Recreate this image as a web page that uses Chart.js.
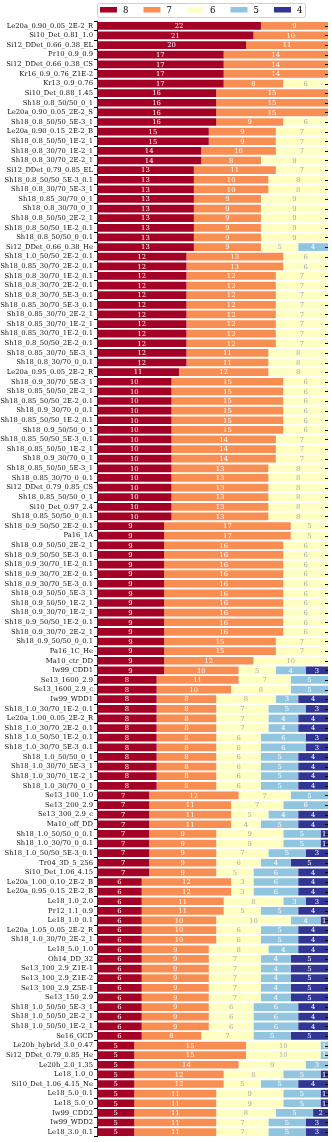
<!DOCTYPE html>
<html>
<head>
<meta charset="utf-8">
<script src="https://cdn.jsdelivr.net/npm/chart.js@4/dist/chart.umd.min.js"></script>
<style>
  body { margin: 0; background: #fff; }
  canvas { display: block; }
</style>
</head>
<body>
<canvas id="chart" width="332" height="1142"></canvas>
<script>
const labels = [
    'Le20a_0.90_0.05_2E-2_R', 'Si10_Det_0.81_1.0', 'Si12_DDet_0.66_0.38_EL', 'Pr10_0.9_0.9', 'Si12_DDet_0.66_0.38_CS', 'Kr16_0.9_0.76_Z1E-2', 'Kr13_0.9_0.76', 'Si10_Det_0.88_1.45',
    'Sh18_0.8_50/50_0_1', 'Le20a_0.90_0.05_2E-2_S', 'Sh18_0.8_50/50_5E-3_1', 'Le20a_0.90_0.15_2E-2_B', 'Sh18_0.8_50/50_1E-2_1', 'Sh18_0.8_30/70_1E-2_1', 'Sh18_0.8_30/70_2E-2_1', 'Si12_DDet_0.79_0.85_EL', 'Sh18_0.8_50/50_5E-3_0.1', 'Sh18_0.8_30/70_5E-3_1',
    'Sh18_0.85_30/70_0_1', 'Sh18_0.8_30/70_0_1', 'Sh18_0.8_50/50_2E-2_1', 'Sh18_0.8_50/50_1E-2_0.1', 'Sh18_0.8_50/50_0_0.1', 'Si12_DDet_0.66_0.38_He', 'Sh18_1.0_50/50_2E-2_0.1', 'Sh18_0.85_30/70_2E-2_0.1', 'Sh18_0.8_30/70_1E-2_0.1', 'Sh18_0.8_30/70_2E-2_0.1',
    'Sh18_0.8_30/70_5E-3_0.1', 'Sh18_0.85_30/70_5E-3_0.1', 'Sh18_0.85_30/70_2E-2_1', 'Sh18_0.85_30/70_1E-2_1', 'Sh18_0.85_30/70_1E-2_0.1', 'Sh18_0.8_50/50_2E-2_0.1', 'Sh18_0.85_30/70_5E-3_1', 'Sh18_0.8_30/70_0_0.1', 'Le20a_0.95_0.05_2E-2_R',
    'Sh18_0.9_30/70_5E-3_1', 'Sh18_0.85_50/50_2E-2_1', 'Sh18_0.85_50/50_2E-2_0.1', 'Sh18_0.9_30/70_0_0.1', 'Sh18_0.85_50/50_1E-2_0.1', 'Sh18_0.9_50/50_0_1', 'Sh18_0.85_50/50_5E-3_0.1', 'Sh18_0.85_50/50_1E-2_1', 'Sh18_0.9_30/70_0_1', 'Sh18_0.85_50/50_5E-3_1',
    'Sh18_0.85_30/70_0_0.1', 'Si12_DDet_0.79_0.85_CS', 'Sh18_0.85_50/50_0_1', 'Si10_Det_0.97_2.4', 'Sh18_0.85_50/50_0_0.1', 'Sh18_0.9_50/50_2E-2_0.1', 'Pa16_1A', 'Sh18_0.9_50/50_2E-2_1', 'Sh18_0.9_50/50_5E-3_0.1', 'Sh18_0.9_30/70_1E-2_0.1',
    'Sh18_0.9_30/70_2E-2_0.1', 'Sh18_0.9_30/70_5E-3_0.1', 'Sh18_0.9_50/50_5E-3_1', 'Sh18_0.9_50/50_1E-2_1', 'Sh18_0.9_30/70_1E-2_1', 'Sh18_0.9_50/50_1E-2_0.1', 'Sh18_0.9_30/70_2E-2_1', 'Sh18_0.9_50/50_0_0.1', 'Pa16_1C_He', 'Ma10_ctr_DD',
    'Iw99_CDD1', 'Se13_1600_2.9', 'Se13_1600_2.9_c', 'Iw99_WDD1', 'Sh18_1.0_30/70_1E-2_0.1', 'Le20a_1.00_0.05_2E-2_R', 'Sh18_1.0_30/70_2E-2_0.1', 'Sh18_1.0_50/50_1E-2_0.1', 'Sh18_1.0_30/70_5E-3_0.1', 'Sh18_1.0_50/50_0_1',
    'Sh18_1.0_30/70_5E-3_1', 'Sh18_1.0_30/70_1E-2_1', 'Sh18_1.0_30/70_0_1', 'Se13_100_1.0', 'Se13_200_2.9', 'Se13_300_2.9_c', 'Ma10_off_DD', 'Sh18_1.0_50/50_0_0.1', 'Sh18_1.0_30/70_0_0.1', 'Sh18_1.0_50/50_5E-3_0.1',
    'Tr04_3D_5_256', 'Si10_Det_1.06_4.15', 'Le20a_1.00_0.10_2E-2_B', 'Le20a_0.95_0.15_2E-2_B', 'Le18_1.0_2.0', 'Pr12_1.1_0.9', 'Le18_1.0_0.1', 'Le20a_1.05_0.05_2E-2_R', 'Sh18_1.0_30/70_2E-2_1', 'Le18_5.0_1.0',
    'Oh14_DD_32', 'Se13_100_2.9_Z1E-1', 'Se13_100_2.9_Z1E-2', 'Se13_100_2.9_Z5E-1', 'Se13_150_2.9', 'Sh18_1.0_50/50_5E-3_1', 'Sh18_1.0_50/50_2E-2_1', 'Sh18_1.0_50/50_1E-2_1', 'Se16_GCD',
    'Le20b_hybrid_3.0_0.47', 'Si12_DDet_0.79_0.85_He', 'Le20b_2.0_1.35', 'Le18_1.0_0', 'Si10_Det_1.06_4.15_Ne', 'Le18_5.0_0.1', 'Le18_5.0_0', 'Iw99_CDD2', 'Iw99_WDD2', 'Le18_3.0_0.1'
];

// counts per score, one entry per label (0 = not present)
const n8 = [
    22, 21, 20, 17, 17, 17, 17, 16,
    16, 16, 16, 15, 15, 14, 14, 13, 13, 13,
    13, 13, 13, 13, 13, 13, 12, 12, 12, 12,
    12, 12, 12, 12, 12, 12, 12, 12, 11,
    10, 10, 10, 10, 10, 10, 10, 10, 10, 10,
    10, 10, 10, 10, 10, 9, 9, 9, 9, 9,
    9, 9, 9, 9, 9, 9, 9, 9, 9, 9,
    9, 8, 8, 8, 8, 8, 8, 8, 8, 8,
    8, 8, 8, 7, 7, 7, 7, 7, 7, 7,
    7, 7, 6, 6, 6, 6, 6, 6, 6, 6,
    6, 6, 6, 6, 6, 6, 6, 6, 6,
    5, 5, 5, 5, 5, 5, 5, 5, 5, 5
];
const n7 = [
    9, 10, 11, 14, 14, 14, 8, 15,
    15, 15, 9, 9, 9, 10, 8, 11, 10, 10,
    9, 9, 9, 9, 9, 9, 13, 13, 12, 12,
    12, 12, 12, 12, 12, 12, 11, 11, 12,
    15, 15, 15, 15, 15, 15, 14, 14, 14, 13,
    13, 13, 13, 13, 13, 17, 17, 16, 16, 16,
    16, 16, 16, 16, 16, 16, 16, 15, 15, 12,
    10, 11, 10, 8, 8, 8, 8, 8, 8, 8,
    8, 8, 8, 12, 11, 11, 11, 9, 9, 9,
    9, 9, 12, 12, 11, 11, 10, 10, 10, 9,
    9, 9, 9, 9, 9, 9, 9, 9, 8,
    15, 15, 14, 12, 12, 11, 11, 11, 11, 11
];
const n6 = [
    0, 0, 0, 0, 0, 0, 6, 0,
    0, 0, 6, 7, 7, 7, 9, 7, 8, 8,
    9, 9, 9, 9, 9, 5, 6, 6, 7, 7,
    7, 7, 7, 7, 7, 7, 8, 8, 8,
    6, 6, 6, 6, 6, 6, 7, 7, 7, 8,
    8, 8, 8, 8, 8, 5, 5, 6, 6, 6,
    6, 6, 6, 6, 6, 6, 6, 7, 7, 10,
    5, 7, 8, 8, 7, 7, 7, 6, 6, 6,
    6, 6, 6, 7, 7, 5, 4, 9, 9, 7,
    6, 5, 3, 3, 8, 5, 10, 6, 6, 8,
    7, 7, 7, 7, 7, 6, 6, 6, 7,
    10, 10, 9, 8, 5, 9, 9, 8, 7, 7
];
const n5 = [
    0, 0, 0, 0, 0, 0, 0, 0,
    0, 0, 0, 0, 0, 0, 0, 0, 0, 0,
    0, 0, 0, 0, 0, 4, 0, 0, 0, 0,
    0, 0, 0, 0, 0, 0, 0, 0, 0,
    0, 0, 0, 0, 0, 0, 0, 0, 0, 0,
    0, 0, 0, 0, 0, 0, 0, 0, 0, 0,
    0, 0, 0, 0, 0, 0, 0, 0, 0, 0,
    4, 5, 5, 3, 5, 4, 4, 6, 6, 5,
    5, 5, 5, 5, 6, 4, 5, 5, 5, 5,
    4, 6, 6, 6, 3, 5, 4, 5, 5, 4,
    4, 4, 4, 4, 4, 6, 6, 6, 5,
    1, 1, 3, 5, 5, 5, 5, 5, 5, 5
];
const n4 = [
    0, 0, 0, 0, 0, 0, 0, 0,
    0, 0, 0, 0, 0, 0, 0, 0, 0, 0,
    0, 0, 0, 0, 0, 0, 0, 0, 0, 0,
    0, 0, 0, 0, 0, 0, 0, 0, 0,
    0, 0, 0, 0, 0, 0, 0, 0, 0, 0,
    0, 0, 0, 0, 0, 0, 0, 0, 0, 0,
    0, 0, 0, 0, 0, 0, 0, 0, 0, 0,
    3, 0, 0, 4, 3, 4, 4, 3, 3, 4,
    4, 4, 4, 0, 0, 4, 4, 1, 1, 3,
    5, 4, 4, 4, 3, 4, 1, 4, 4, 4,
    5, 5, 5, 5, 5, 4, 4, 4, 5,
    0, 0, 0, 1, 4, 1, 1, 2, 3, 3
];

const seriesNames = ['8', '7', '6', '5', '4'];
const seriesValues = [n8, n7, n6, n5, n4];
const seriesColors = ['#a50026', '#f98e52', '#feffc0', '#91c4de', '#313695'];
const textColors = ['#fff', '#fff', '#aaa', '#fff', '#fff'];
const xMax = 31;

const serif = '"DejaVu Serif", serif';

// numbers in the middle of each segment
const segmentLabels = {
    id: 'segmentLabels',
    afterDatasetsDraw(chart) {
        const ctx = chart.ctx;
        ctx.save();
        ctx.font = '6.8px ' + serif;
        ctx.textAlign = 'center';
        ctx.textBaseline = 'middle';
        chart.data.datasets.forEach((ds, i) => {
            const meta = chart.getDatasetMeta(i);
            meta.data.forEach((bar, j) => {
                const v = ds.data[j];
                if (!v) return;
                ctx.fillStyle = textColors[i];
                ctx.fillText(String(v), (bar.x + bar.base) / 2, bar.y + 0.5);
            });
        });
        ctx.restore();
    }
};

// short inward ticks on the right edge + legend box above the plot
const extras = {
    id: 'extras',
    afterDraw(chart) {
        const ctx = chart.ctx;
        const area = chart.chartArea;
        const yScale = chart.scales.y;
        ctx.save();
        ctx.strokeStyle = '#000';
        ctx.lineWidth = 1;
        ctx.beginPath();
        yScale.ticks.forEach((t, i) => {
            const y = Math.round(yScale.getPixelForTick(i)) + 0.5;
            ctx.moveTo(area.right - 3, y);
            ctx.lineTo(area.right, y);
        });
        ctx.stroke();

        // legend
        const lx = area.left, ly = 3, lw = 208, lh = 14;
        ctx.fillStyle = 'rgba(255,255,255,0.9)';
        ctx.strokeStyle = '#d0d0d0';
        ctx.beginPath();
        ctx.roundRect(lx + 0.5, ly + 0.5, lw, lh, 2);
        ctx.fill();
        ctx.stroke();
        ctx.font = '8.5px ' + serif;
        ctx.textBaseline = 'middle';
        ctx.textAlign = 'left';
        seriesNames.forEach((name, i) => {
            const x = lx + 3 + i * 43.5;
            ctx.fillStyle = seriesColors[i];
            ctx.fillRect(x, ly + 4, 17, 5.5);
            ctx.fillStyle = '#000';
            ctx.fillText(name, x + 23, ly + lh / 2 + 1);
        });
        ctx.restore();
    }
};

new Chart(document.getElementById('chart'), {
    type: 'bar',
    data: {
        labels: labels,
        datasets: seriesNames.map((name, i) => ({
            label: name,
            data: seriesValues[i],
            backgroundColor: seriesColors[i],
            borderWidth: 0,
            barPercentage: 0.8,
            categoryPercentage: 1.0
        }))
    },
    options: {
        indexAxis: 'y',
        responsive: false,
        animation: false,
        devicePixelRatio: 1,
        layout: { padding: { top: 21, bottom: 3, right: 4, left: 0 } },
        scales: {
            x: { stacked: true, min: 0, max: xMax, display: false },
            y: {
                stacked: true,
                grid: { drawOnChartArea: false, drawTicks: true, tickLength: 3, color: '#000' },
                border: { display: true, color: '#000', width: 1 },
                ticks: { autoSkip: false, padding: 1, color: '#111', font: { family: serif, size: 6.8 } },
                afterFit(scale) { scale.width = 97; }
            }
        },
        plugins: {
            legend: { display: false },
            tooltip: { enabled: false }
        }
    },
    plugins: [segmentLabels, extras]
});
</script>
</body>
</html>
